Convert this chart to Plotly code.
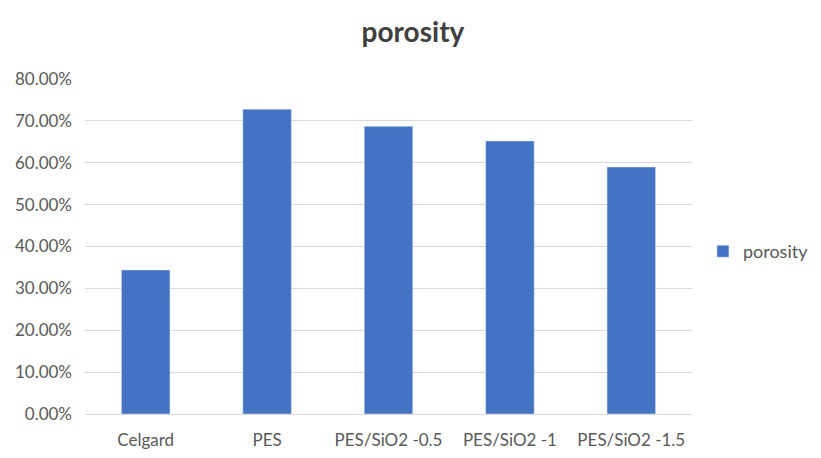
import plotly.graph_objects as go

categories = ["Celgard", "PES", "PES/SiO2 -0.5", "PES/SiO2 -1", "PES/SiO2 -1.5"]
porosity = [0.344, 0.728, 0.687, 0.652, 0.590]
tick_vals = [0, 0.1, 0.2, 0.3, 0.4, 0.5, 0.6, 0.7, 0.8]
tick_text = ["0.00%", "10.00%", "20.00%", "30.00%", "40.00%", "50.00%", "60.00%", "70.00%", "80.00%"]

fig = go.Figure()
fig.add_trace(go.Bar(x=categories, y=porosity, name="porosity", marker_color="#4472C4",
                     showlegend=True))

fig.update_layout(
    width=821, height=458,
    paper_bgcolor="white", plot_bgcolor="white",
    margin=dict(l=85, r=129, t=79, b=44, autoexpand=False),
    bargap=0.6,
    font=dict(family="Lato, Open Sans, sans-serif", size=17, color="#595959"),
    title=dict(text="<b>porosity</b>", x=0.503, xref="container", xanchor="center", y=0.93, yanchor="middle",
               font=dict(size=28, color="#404040", family="Lato, Open Sans, sans-serif")),
    legend=dict(x=1.018, y=0.485, xanchor="left", yanchor="middle", font=dict(size=18, color="#595959"),
                itemwidth=30),
    xaxis=dict(showgrid=False, showline=True, linecolor="#D9D9D9", linewidth=1, ticks="",
               ticklabelstandoff=11, tickfont=dict(size=17)),
    yaxis=dict(range=[0, 0.8], tickvals=tick_vals, ticktext=tick_text, showgrid=True,
               gridcolor="#D9D9D9", gridwidth=1, zeroline=False, showline=False, ticks="",
               ticklabelstandoff=12, tickfont=dict(size=17)),
)
fig.write_html("out.html")
